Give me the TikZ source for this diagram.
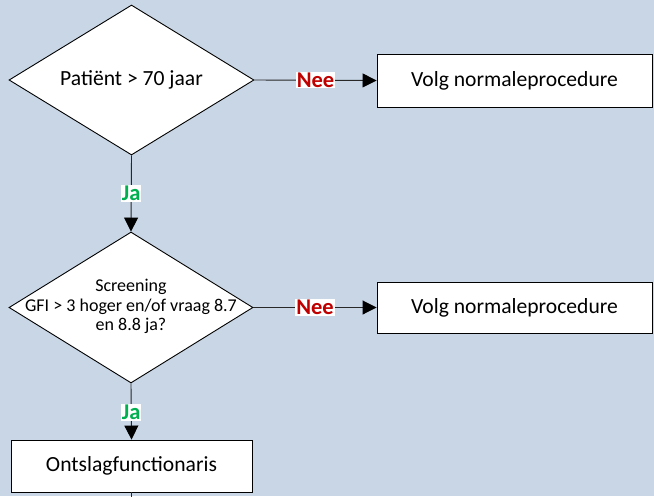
\documentclass[tikz,border=0pt]{standalone}
\usepackage{fontspec}
\setmainfont{Carlito}
\usetikzlibrary{shapes.geometric,arrows.meta}
\definecolor{bgblue}{RGB}{200,214,229}
\definecolor{neered}{RGB}{192,0,0}
\definecolor{jagreen}{RGB}{0,176,80}
\definecolor{lineclr}{RGB}{40,40,40}
\tikzset{
  decision/.style={diamond, draw=black, fill=white, line width=0.9pt, inner sep=0pt, minimum width=#1, minimum height=150pt},
  procbox/.style={draw=black, fill=white, line width=0.9pt, inner sep=0pt},
  maintext/.style={font=\fontsize{21.6}{25}\selectfont},
  smalltext/.style={font=\fontsize{18}{19.5}\selectfont, align=center},
  conn/.style={draw=lineclr, line width=0.9pt},
  arr/.style={conn, -{Triangle[length=14pt,width=14pt,color=black]}},
  neelbl/.style={fill=white, text=neered, font=\fontsize{22.5}{25}\selectfont\bfseries, inner sep=0.8pt},
  jalbl/.style={fill=white, text=jagreen, font=\fontsize{22.5}{25}\selectfont\bfseries, inner sep=0.8pt}
}
\begin{document}
\begin{tikzpicture}[x=1pt,y=-1pt]
\fill[bgblue] (0,0) rectangle (654,496);
\useasboundingbox (0,0) rectangle (654,496);
% decision 1
\node[decision=245pt] (d1) at (131.5,80) {};
\node[maintext] (d1t) at (d1) {Patiënt > 70 jaar};
\node[procbox, maintext, minimum width=275pt, minimum height=53pt] (b1) at (514.5,80.5) {Volg normaleprocedure};
% decision 2
\node[decision=244pt, minimum height=151pt] (d2) at (131,307.5) {};
\node[smalltext] (d2t) at ([yshift=1pt]d2) {Screening\\GFI > 3 hoger en/of vraag 8.7\\en 8.8 ja?};
\node[procbox, maintext, minimum width=275pt, minimum height=51pt] (b2) at (514.5,307.5) {Volg normaleprocedure};
% box 3
\node[procbox, maintext, minimum width=241pt, minimum height=52pt] (b3) at (131.5,466) {Ontslagfunctionaris};
\coordinate (bend) at (131.5,497);
% connectors
\draw[arr] (d1.east) -- node[neelbl, pos=0.5] (nee1) {Nee} (b1.west);
\draw[arr] (d1.south) -- node[jalbl, pos=0.5] (ja1) {Ja} (d2.north);
\draw[arr] (d2.east) -- node[neelbl, pos=0.5] (nee2) {Nee} (b2.west);
\draw[arr] (d2.south) -- node[jalbl, pos=0.52] (ja2) {Ja} (b3.north);
\draw[conn] (b3.south) -- (bend);
\end{tikzpicture}
\end{document}
